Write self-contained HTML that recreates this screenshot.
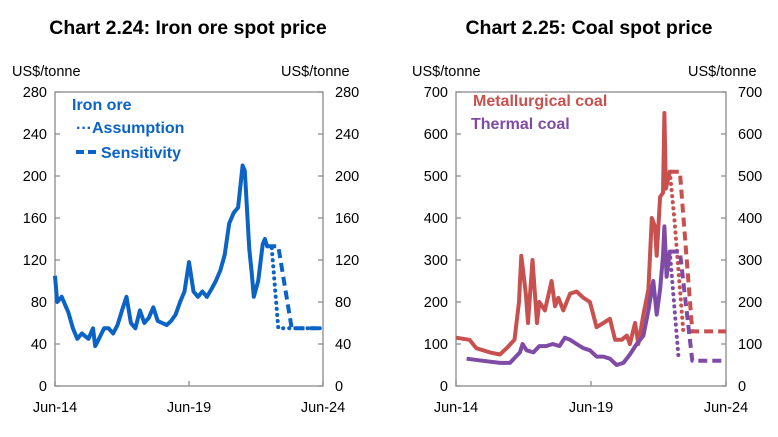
<!DOCTYPE html>
<html><head><meta charset="utf-8"><style>
body{margin:0;background:#fff;font-family:"Liberation Sans",Arial,sans-serif}
svg text{font-family:"Liberation Sans",Arial,sans-serif}
</style></head><body>
<svg id="s" width="778" height="432" viewBox="0 0 778 432">
<text x="188" y="34" font-size="19.5" font-weight="bold" text-anchor="middle">Chart 2.24: Iron ore spot price</text>
<text x="589" y="34" font-size="19.5" font-weight="bold" text-anchor="middle">Chart 2.25: Coal spot price</text>
<text x="12" y="76" font-size="14.5">US$/tonne</text>
<text x="281" y="76" font-size="14.5">US$/tonne</text>
<text x="412" y="76" font-size="14.5">US$/tonne</text>
<text x="688" y="76" font-size="14.5">US$/tonne</text>
<text x="72" y="110" font-size="16" font-weight="bold" fill="#0B63C5">Iron ore</text>
<text x="76" y="133" font-size="16" font-weight="bold" fill="#0B63C5">···Assumption</text>
<line x1="76" y1="152" x2="97" y2="152" stroke="#0B63C5" stroke-width="4" stroke-dasharray="8,4"/>
<text x="101" y="158" font-size="16" font-weight="bold" fill="#0B63C5">Sensitivity</text>
<text x="473" y="106" font-size="16" font-weight="bold" fill="#C8504F">Metallurgical coal</text>
<text x="471" y="129" font-size="16" font-weight="bold" fill="#7F4BA5">Thermal coal</text>
<g id="g"></g>
</svg>
<script>
// Iron ore (months since Jun-14)
const ironMonths=[0,1,3,6,8,10,12,15,17,18,19,22,24,26,28,30,32,34,36,38,40,42,44,46,48,50,52,54,56,58,60,62,64,66,68,70,72,74,76,78,80,82,84,85,87,88,89,91,93,94,95];
const ironValues=[105,80,85,70,55,45,50,45,55,38,42,55,55,50,58,72,85,60,55,72,60,65,75,62,60,58,62,68,80,90,118,90,85,90,85,92,100,110,125,155,165,170,210,205,130,110,85,100,135,140,133];
const ironAssumeM=[95,97,100,120];
const ironAssumeV=[133,133,55,55];
const ironSensM=[95,100,106,120];
const ironSensV=[133,133,55,55];
// Coal
const metMonths=[0,6,9,15,19.5,22.5,26,28,29,31,32,34,36,37,39.5,42.5,44,45.5,47.7,50.7,53.6,56.6,59.5,62.5,65.5,68.4,70.7,73.6,75.9,77.3,79.6,81,83.3,85.5,87,88.4,89.2,90.7,92,92.6,93.3,95];
const metValues=[115,110,90,80,75,90,110,200,310,220,150,300,150,200,180,250,190,210,180,220,225,210,200,140,150,160,110,110,120,100,150,100,170,230,400,380,310,450,460,650,470,510];
const metAssumeM=[95,97,101];
const metAssumeV=[510,400,130];
const metSensM=[95,99.5,105,120];
const metSensV=[510,510,130,130];
const thMonths=[4.7,12,19.5,24,28.4,29.6,31.4,34.4,37,40,43,46,48.4,50.7,53.6,56.6,59.5,62.5,65.5,68.4,71.4,74.4,77.3,80.3,83.3,85.5,87.7,89.2,90.7,92,92.6,93.6,95];
const thValues=[65,60,55,55,80,100,85,80,95,95,100,95,115,110,100,90,85,70,70,65,50,55,75,100,120,180,250,170,230,310,380,260,320];
const thAssumeM=[95,99];
const thAssumeV=[320,60];
const thSensM=[95,99.5,105,120];
const thSensV=[320,320,60,60];
const ironTicks=[0,40,80,120,160,200,240,280];
const coalTicks=[0,100,200,300,400,500,600,700];
const xLabels=["Jun-14","Jun-19","Jun-24"];

const NS="http://www.w3.org/2000/svg";
const g=document.getElementById('g');
function mk(t,a){const e=document.createElementNS(NS,t);for(const k in a)e.setAttribute(k,a[k]);g.appendChild(e);return e;}
function chart(x0,x1,y0,y1,ymax,ticks,prefix){
  const sx=m=>x0+(x1-x0)*m/120, sy=v=>y1-(y1-y0)*v/ymax;
  let f=mk('rect',{x:x0,y:y0,width:x1-x0,height:y1-y0,fill:'none',stroke:'#8a8a8a','stroke-width':1.3});
  
  
  ticks.forEach(v=>{
    const y=sy(v);
    let t=mk('path',{d:`M${x0},${y}h5M${x1},${y}h-5`,stroke:'#8a8a8a','stroke-width':1.3});
    
    
    let a=mk('text',{x:x0-8,y:y+5,'font-size':14.5,'text-anchor':'end'});a.textContent=v;
    
    
    let b=mk('text',{x:x1+12,y:y+5,'font-size':14.5});b.textContent=v;
    
    
  });
  xLabels.forEach((l,i)=>{
    const x=sx(i*60);
    let t=mk('line',{x1:x,x2:x,y1:y1,y2:y1-5,stroke:'#8a8a8a','stroke-width':1.3});
    
    
    let a=mk('text',{x:x,y:412,'font-size':14.5,'text-anchor':'middle'});a.textContent=l;
    
    
  });
  return function line(ms,vs,col,dash,name){
    const d=ms.map((m,i)=>(i?'L':'M')+sx(m).toFixed(1)+','+sy(vs[i]).toFixed(1)).join('');
    const a={d:d,fill:'none',stroke:col,'stroke-width':4,'stroke-linejoin':'round'};
    if(dash==='dot'){a['stroke-dasharray']='0.1,6';a['stroke-linecap']='round';}
    if(dash==='dash'){a['stroke-dasharray']='9,5';}
    let p=mk('path',a);
    
    
  };
}
const L1=chart(55,323,92,386,280,ironTicks,'iron');
L1(ironAssumeM,ironAssumeV,'#0B63C5','dot','iron-assumption-line');
L1(ironSensM,ironSensV,'#0B63C5','dash','iron-sensitivity-line');
L1(ironMonths,ironValues,'#0B63C5',null,'iron-ore-line');
const L2=chart(456,726,92,386,700,coalTicks,'coal');
L2(metAssumeM,metAssumeV,'#C8504F','dot','met-assumption-line');
L2(metSensM,metSensV,'#C8504F','dash','met-sensitivity-line');
L2(thAssumeM,thAssumeV,'#7F4BA5','dot','thermal-assumption-line');
L2(thSensM,thSensV,'#7F4BA5','dash','thermal-sensitivity-line');
L2(metMonths,metValues,'#C8504F',null,'metallurgical-coal-line');
L2(thMonths,thValues,'#7F4BA5',null,'thermal-coal-line');
</script>
</body></html>
